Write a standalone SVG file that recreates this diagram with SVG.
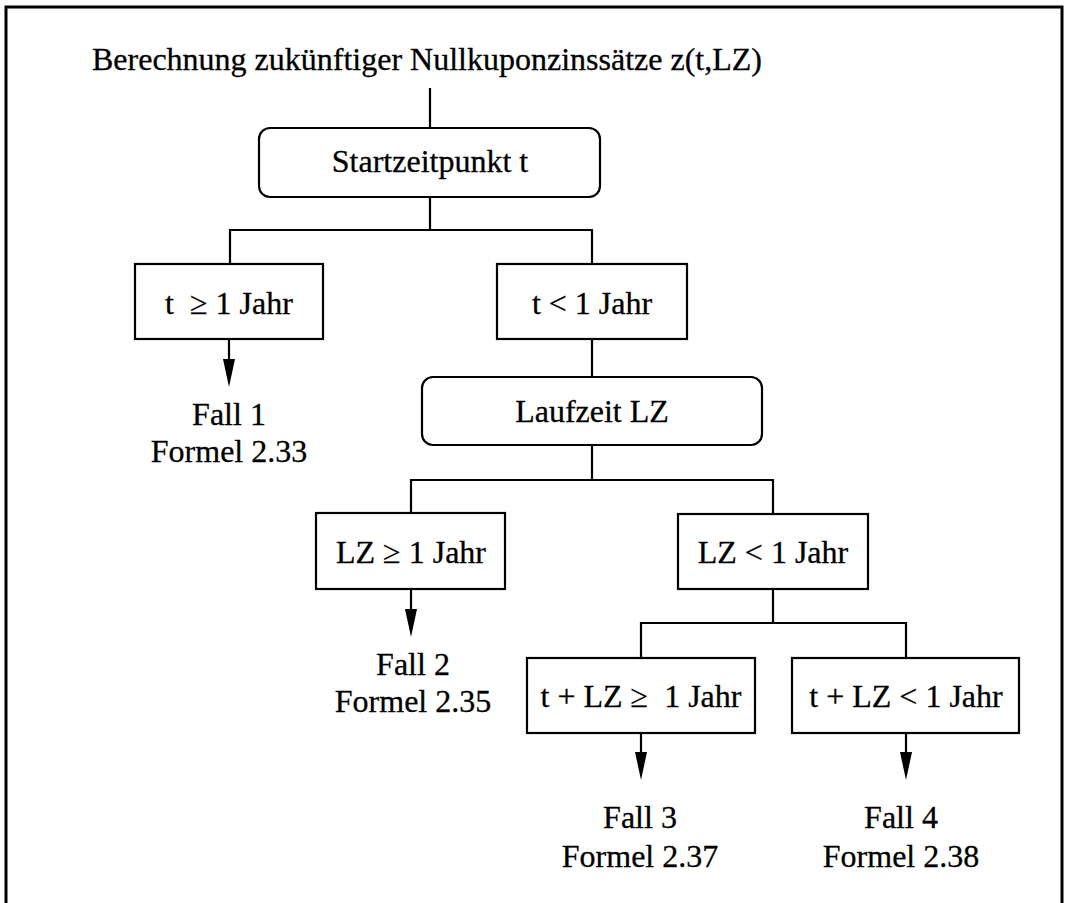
<svg xmlns="http://www.w3.org/2000/svg" width="1065" height="903" viewBox="0 0 1065 903">
<style>
  text { font-family: "Liberation Serif", "Times New Roman", serif; font-size: 32px; fill: #000; stroke: #000; stroke-width: 0.3; text-anchor: middle; white-space: pre; }
  .box { fill: #fff; stroke: #000; stroke-width: 2.2; }
  .ln { fill: none; stroke: #000; stroke-width: 2.2; }
  .head { fill: #000; }
</style>
<rect x="0" y="0" width="1065" height="903" fill="#fff"/>
<path d="M6,910 V7 H1062 V910" fill="none" stroke="#000" stroke-width="3"/>

<g id="title">
  <text x="427" y="70">Berechnung zukünftiger Nullkuponzinssätze z(t,LZ)</text>
</g>

<g id="connectors">
  <path class="ln" d="M430,88 V128"/>
  <path class="ln" d="M430,197 V230 M230,264 V230 H592 V264"/>
  <path class="ln" d="M592,339 V377"/>
  <path class="ln" d="M592,445 V480 M411,513 V480 H773 V514"/>
  <path class="ln" d="M773,589 V623 M641,658 V623 H906 V658"/>
  <path class="ln" d="M229,339 V360"/>
  <path class="head" d="M223,359 H235 L229,387 Z"/>
  <path class="ln" d="M411,589 V610"/>
  <path class="head" d="M405,609 H417 L411,637 Z"/>
  <path class="ln" d="M641,733 V753"/>
  <path class="head" d="M635,752 H647 L641,780 Z"/>
  <path class="ln" d="M906,733 V753"/>
  <path class="head" d="M900,752 H912 L906,780 Z"/>
</g>

<g id="start">
  <rect class="box" x="259" y="128" width="341" height="69" rx="11"/>
  <text x="430" y="172">Startzeitpunkt t</text>
</g>
<g id="t-ge-1">
  <rect class="box" x="135" y="264" width="188" height="75"/>
  <text x="229" y="314">t  ≥ 1 Jahr</text>
</g>
<g id="t-lt-1">
  <rect class="box" x="497" y="264" width="190" height="75"/>
  <text x="592" y="314">t &lt; 1 Jahr</text>
</g>
<g id="fall1">
  <text x="229" y="425">Fall 1</text>
  <text x="229" y="462">Formel 2.33</text>
</g>
<g id="laufzeit">
  <rect class="box" x="422" y="377" width="340" height="68" rx="11"/>
  <text x="592" y="422">Laufzeit LZ</text>
</g>
<g id="lz-ge-1">
  <rect class="box" x="316" y="513" width="189" height="76"/>
  <text x="411" y="563">LZ ≥ 1 Jahr</text>
</g>
<g id="lz-lt-1">
  <rect class="box" x="678" y="514" width="190" height="75"/>
  <text x="773" y="563">LZ &lt; 1 Jahr</text>
</g>
<g id="fall2">
  <text x="413" y="675">Fall 2</text>
  <text x="413" y="712">Formel 2.35</text>
</g>
<g id="tlz-ge-1">
  <rect class="box" x="527" y="658" width="228" height="75"/>
  <text x="641" y="707">t + LZ ≥  1 Jahr</text>
</g>
<g id="tlz-lt-1">
  <rect class="box" x="792" y="658" width="227" height="75"/>
  <text x="906" y="707">t + LZ &lt; 1 Jahr</text>
</g>
<g id="fall3">
  <text x="640" y="828">Fall 3</text>
  <text x="640" y="867">Formel 2.37</text>
</g>
<g id="fall4">
  <text x="901" y="828">Fall 4</text>
  <text x="901" y="867">Formel 2.38</text>
</g>
</svg>
